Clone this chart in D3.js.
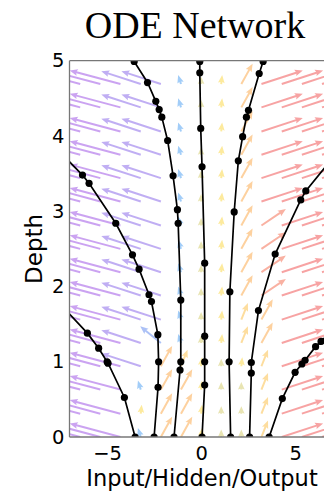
<!DOCTYPE html>
<html>
<head>
<meta charset="utf-8">
<script src="https://cdn.jsdelivr.net/npm/d3@7"></script>
<style>
  body { margin: 0; background: #fff; }
  svg { display: block; }
</style>
</head>
<body>
<script>
// quiver grid: columns (input value) and rows (depth)
const fieldCols = [-7.5, -6.43, -5.36, -4.29, -3.21, -2.14, -1.07, 0, 1.07, 2.14, 3.21, 4.29, 5.36, 6.43, 7.5]
const fieldRows = [0, 0.31, 0.63, 0.94, 1.25, 1.56, 1.88, 2.19, 2.5, 2.81, 3.13, 3.44, 3.75, 4.06, 4.38, 4.69]

// arrow kinds: [dx, dDepth]
const arrowKinds = {
  P: [-2.7, 0.18],
  V: [-2.1, 0.17],
  v: [-1.1, 0.22],
  B: [-0.15, 0.12],
  b: [0, 0.1],
  Y: [0.05, 0.12],
  o: [0.35, 0.22],
  O: [0.6, 0.27],
  r: [1.3, 0.22],
  R: [2.2, 0.18]
}

// one string per row, bottom row first, one letter per column
const fieldGrid = [
  "PPPPBOOYbboRRRR",
  "PPPPYOOYbboRRRR",
  "PPPPBOOYbboRRRR",
  "PPPPVOoYbYoRRRR",
  "PPPPVvBbYoORRRR",
  "PPPPVVBbYoORRRR",
  "PPPPVVBbYOrRRRR",
  "PPPPVVBbYOrRRRR",
  "PPPPVVBbYOrRRRR",
  "PPPPVVBbYOrRRRR",
  "PPPPVVBbYORRRRR",
  "PPPPVVBbYORRRRR",
  "PPPPVVBbYORRRRR",
  "PPPPVVBbYORRRRR",
  "PPPPVVBbYORRRRR",
  "PPPPVVBbYORRRRR"
]

// trajectories: [input, depth]; points outside [-7, 7] only extend the line
const trajectories = [
  [[-3.51, 0], [-4.08, 0.525], [-4.95, 0.98], [-5.0, 1.0], [-5.45, 1.18], [-6.05, 1.38], [-7.4, 1.74]],
  [[-2.5, 0], [-2.29, 0.66], [-2.26, 1.0], [-2.3, 1.36], [-2.64, 1.8], [-2.77, 1.89], [-3.3, 2.23],
   [-3.65, 2.42], [-4.54, 2.84], [-5.96, 3.37], [-6.31, 3.48], [-7.4, 3.76]],
  [[-1.44, 0], [-1.12, 0.89], [-1.08, 1.0], [-1.08, 1.82], [-1.22, 2.84], [-1.26, 3.02], [-1.49, 3.47],
   [-1.78, 3.94], [-2.09, 4.25], [-2.23, 4.35], [-2.41, 4.46], [-2.85, 4.71], [-3.56, 4.99]],
  [[0.05, 0], [0.19, 0.69], [0.19, 1.0], [0.19, 1.34], [0.19, 2.31], [0.05, 3.59], [-0.02, 4.1],
   [-0.07, 4.84], [-0.07, 4.99]],
  [[1.57, 0], [1.49, 1.0], [1.53, 1.93], [1.76, 2.99], [1.98, 3.67], [2.21, 3.99], [2.41, 4.25],
   [2.52, 4.34], [3.09, 4.83], [3.3, 4.99]],
  [[2.58, 0], [2.67, 0.85], [2.67, 0.99], [3.05, 1.68], [3.94, 2.43], [5.3, 3.15], [5.57, 3.27], [7.4, 3.83]],
  [[3.62, 0], [4.32, 0.51], [5.0, 0.86], [5.36, 0.97], [5.53, 1.02], [6.09, 1.2], [6.38, 1.27], [7.4, 1.52]]
]

const xTicks = [-5, 0, 5]
const yTicks = [0, 1, 2, 3, 4, 5]

const width = 324
const height = 491

const svg = d3.select('body').append('svg')
  .attr('width', width)
  .attr('height', height)
  .attr('viewBox', `0 0 ${width} ${height}`)

const x = d3.scaleLinear().domain([-7, 7]).range([69.5, 332.7])
const y = d3.scaleLinear().domain([0, 5]).range([437, 60.7])

const color = d3.scaleLinear()
  .domain([-2.4, -1.8, -0.1, 0.03, 0.6, 1.6])
  .range(['#8b34e0', '#5a62ea', '#2f92f0', '#fbd225', '#fb9a2a', '#ee3434'])
  .clamp(true)

svg.append('defs').append('clipPath').attr('id', 'plot')
  .append('rect')
  .attr('x', x(-7)).attr('y', y(5))
  .attr('width', x(7) - x(-7)).attr('height', y(0) - y(5))

// quiver arrow as a polygon in pixel space
function arrowPath(x0, y0, dx, dy) {
  const L = Math.hypot(dx, dy)
  const ux = dx / L, uy = dy / L
  const nx = -uy, ny = ux
  const sw = 1.0, hw = 3.3
  const hl = Math.min(8, L), ha = hl * 0.88
  const tx = x0 + dx, ty = y0 + dy
  const nkx = tx - ux * ha, nky = ty - uy * ha
  const hx = tx - ux * hl, hy = ty - uy * hl
  const p = [
    [x0 + nx * sw, y0 + ny * sw],
    [nkx + nx * sw, nky + ny * sw],
    [hx + nx * hw, hy + ny * hw],
    [tx, ty],
    [hx - nx * hw, hy - ny * hw],
    [nkx - nx * sw, nky - ny * sw],
    [x0 - nx * sw, y0 - ny * sw]
  ]
  return 'M' + p.map(q => q[0].toFixed(2) + ',' + q[1].toFixed(2)).join('L') + 'Z'
}

const arrows = []
fieldGrid.forEach((rowStr, j) => {
  rowStr.split('').forEach((k, i) => {
    const [u, v] = arrowKinds[k]
    arrows.push({x: fieldCols[i], t: fieldRows[j], u, v})
  })
})

svg.append('g')
    .attr('clip-path', 'url(#plot)')
  .selectAll('path')
  .data(arrows)
  .join('path')
    .attr('d', a => arrowPath(x(a.x), y(a.t), x(a.x + a.u) - x(a.x), y(a.t + a.v) - y(a.t)))
    .attr('fill', a => color(a.u))
    .attr('fill-opacity', 0.45)

const line = d3.line().x(d => x(d[0])).y(d => y(d[1]))

const traj = svg.append('g').attr('clip-path', 'url(#plot)')

traj.selectAll('path')
  .data(trajectories)
  .join('path')
    .attr('d', line)
    .attr('fill', 'none')
    .attr('stroke', '#000')
    .attr('stroke-width', 1.7)

traj.selectAll('circle')
  .data(trajectories.flat().filter(d => Math.abs(d[0]) <= 7))
  .join('circle')
    .attr('cx', d => x(d[0]))
    .attr('cy', d => y(d[1]))
    .attr('r', 3.6)
    .attr('fill', '#000')

// spines
const spine = '#777'
svg.append('line').attr('x1', x(-7)).attr('x2', x(-7)).attr('y1', y(0)).attr('y2', y(5))
  .attr('stroke', spine).attr('stroke-width', 1.3)
svg.append('line').attr('x1', x(-7)).attr('x2', x(7)).attr('y1', y(0)).attr('y2', y(0))
  .attr('stroke', spine).attr('stroke-width', 1.3)
svg.append('line').attr('x1', x(-7)).attr('x2', x(7)).attr('y1', y(5)).attr('y2', y(5))
  .attr('stroke', spine).attr('stroke-width', 1.3)

const tickFont = 'DejaVu Sans, sans-serif'

svg.append('g')
    .attr('transform', `translate(0,${y(0)})`)
    .call(d3.axisBottom(x).tickValues(xTicks).tickSize(0).tickPadding(9)
      .tickFormat(d => d < 0 ? '\u2212' + Math.abs(d) : d))
    .call(g => g.select('.domain').remove())
    .call(g => g.selectAll('text').attr('font-family', tickFont).attr('font-size', 19.5).attr('fill', '#000'))

svg.append('g')
    .attr('transform', `translate(${x(-7)},0)`)
    .call(d3.axisLeft(y).tickValues(yTicks).tickSize(0).tickPadding(5).tickFormat(d3.format('d')))
    .call(g => g.select('.domain').remove())
    .call(g => g.selectAll('text').attr('font-family', tickFont).attr('font-size', 19.5).attr('fill', '#000'))

svg.append('text')
    .attr('x', 202)
    .attr('y', 486)
    .attr('text-anchor', 'middle')
    .attr('font-family', tickFont)
    .attr('font-size', 22.5)
    .text('Input/Hidden/Output')

svg.append('text')
    .attr('transform', `translate(42,${y(2.5)}) rotate(-90)`)
    .attr('text-anchor', 'middle')
    .attr('font-family', tickFont)
    .attr('font-size', 23)
    .text('Depth')

svg.append('text')
    .attr('x', 195)
    .attr('y', 38)
    .attr('text-anchor', 'middle')
    .attr('font-family', 'Liberation Serif, Times New Roman, serif')
    .attr('font-size', 38)
    .text('ODE Network')
</script>
</body>
</html>
